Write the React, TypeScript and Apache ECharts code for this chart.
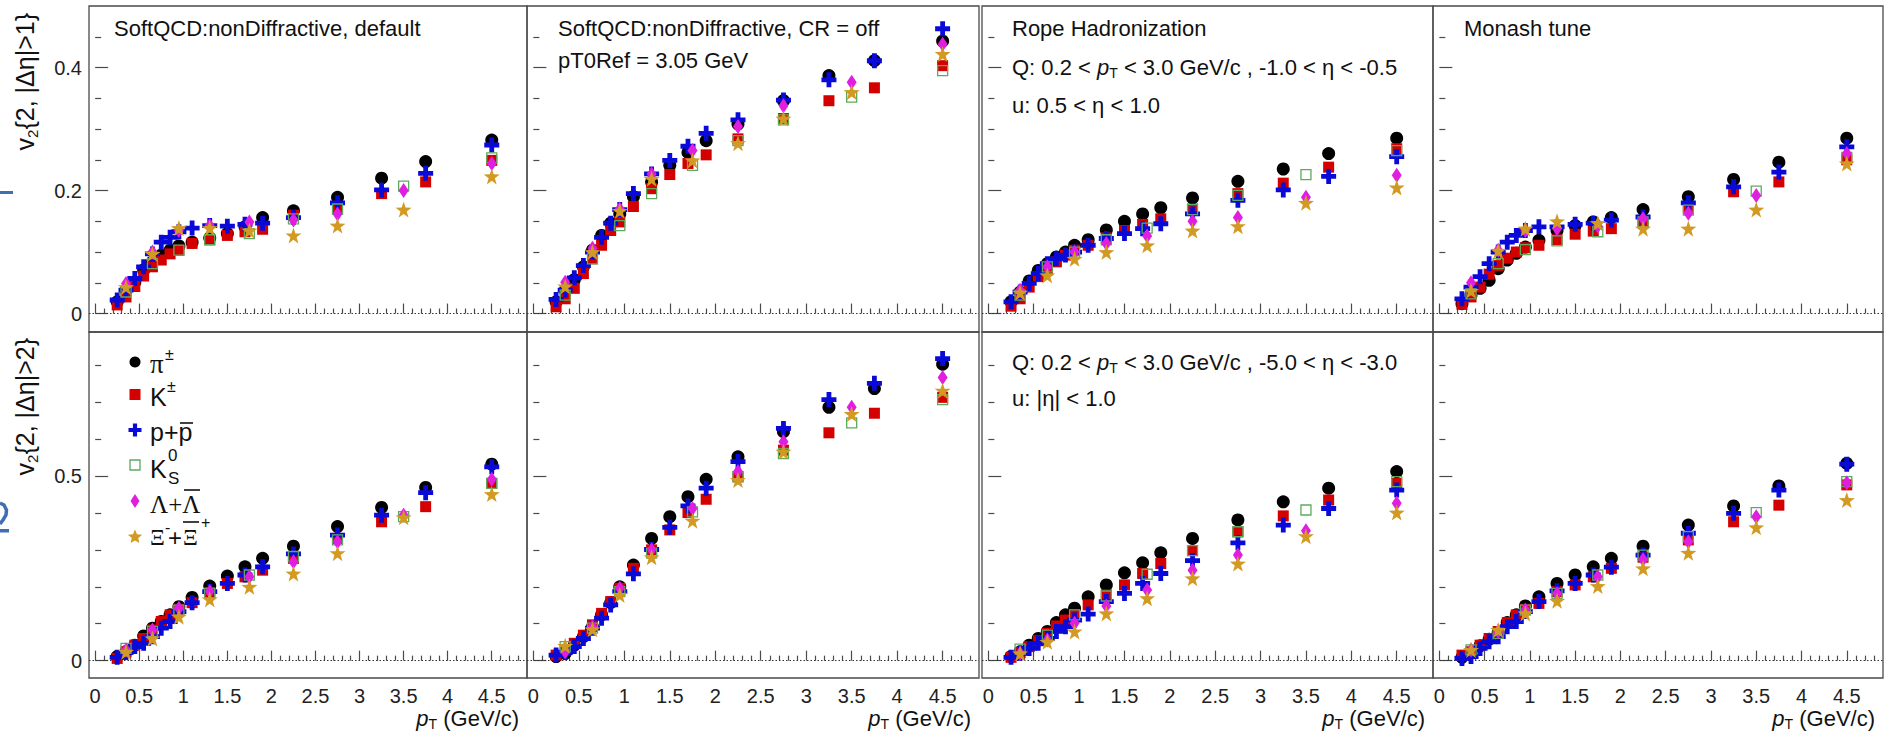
import React, { useEffect, useRef } from 'react';
import * as echarts from 'echarts';

// ---------------- data ----------------
const PT_LIGHT = [0.25, 0.35, 0.45, 0.55, 0.65, 0.75, 0.85, 0.95, 1.1, 1.3, 1.5, 1.7, 1.9, 2.25, 2.75, 3.25, 3.75, 4.5];
const PT_STRANGE = [0.35, 0.65, 0.95, 1.3, 1.75, 2.25, 2.75, 3.5, 4.5];

// top row: v2{2, |Δη|>1}
const defEta1_pi = [0.019, 0.038, 0.051, 0.071, 0.084, 0.095, 0.103, 0.110, 0.116, 0.123, 0.130, 0.141, 0.156, 0.167, 0.189, 0.220, 0.247, 0.282];
const defEta1_K = [0.014, 0.027, 0.044, 0.061, 0.076, 0.087, 0.097, 0.103, 0.114, 0.120, 0.127, 0.133, 0.137, 0.160, 0.170, 0.195, 0.214, 0.249];
const defEta1_p = [0.022, 0.038, 0.057, 0.076, 0.097, 0.116, 0.124, 0.133, 0.139, 0.143, 0.142, 0.145, 0.147, 0.156, 0.180, 0.201, 0.228, 0.274];
const defEta1_K0S = [0.035, 0.081, 0.103, 0.120, 0.130, 0.154, 0.170, 0.207, 0.253];
const defEta1_Lam = [0.049, 0.100, 0.135, 0.143, 0.149, 0.152, 0.162, 0.200, 0.244];
const defEta1_Xi = [0.043, 0.097, 0.139, 0.139, 0.135, 0.127, 0.143, 0.169, 0.223];

const crOffEta1_pi = [0.019, 0.038, 0.055, 0.076, 0.103, 0.127, 0.147, 0.162, 0.190, 0.214, 0.241, 0.262, 0.281, 0.308, 0.346, 0.387, 0.411, 0.443];
const crOffEta1_K = [0.011, 0.024, 0.041, 0.065, 0.089, 0.111, 0.135, 0.149, 0.174, 0.203, 0.226, 0.244, 0.258, 0.284, 0.317, 0.346, 0.367, 0.403];
const crOffEta1_p = [0.023, 0.038, 0.058, 0.078, 0.100, 0.124, 0.147, 0.169, 0.195, 0.227, 0.249, 0.272, 0.293, 0.315, 0.347, 0.380, 0.411, 0.463];
const crOffEta1_K0S = [0.030, 0.089, 0.143, 0.195, 0.241, 0.281, 0.315, 0.352, 0.395];
const crOffEta1_Lam = [0.051, 0.106, 0.170, 0.227, 0.265, 0.304, 0.338, 0.376, 0.438];
const crOffEta1_Xi = [0.044, 0.100, 0.167, 0.219, 0.249, 0.277, 0.317, 0.360, 0.422];

const ropeEta1_pi = [0.019, 0.035, 0.053, 0.070, 0.081, 0.092, 0.100, 0.111, 0.120, 0.136, 0.150, 0.162, 0.172, 0.188, 0.215, 0.235, 0.260, 0.285];
const ropeEta1_K = [0.012, 0.024, 0.043, 0.060, 0.071, 0.084, 0.095, 0.103, 0.111, 0.123, 0.135, 0.145, 0.154, 0.170, 0.195, 0.212, 0.238, 0.268];
const ropeEta1_p = [0.019, 0.035, 0.049, 0.065, 0.081, 0.089, 0.095, 0.100, 0.111, 0.122, 0.130, 0.138, 0.146, 0.162, 0.184, 0.201, 0.223, 0.255];
const ropeEta1_K0S = [0.030, 0.076, 0.100, 0.120, 0.139, 0.169, 0.192, 0.226, 0.265];
const ropeEta1_Lam = [0.038, 0.076, 0.100, 0.114, 0.126, 0.150, 0.156, 0.189, 0.225];
const ropeEta1_Xi = [0.034, 0.062, 0.089, 0.100, 0.111, 0.135, 0.142, 0.180, 0.205];

const monashEta1_pi = [0.016, 0.030, 0.041, 0.054, 0.073, 0.087, 0.098, 0.108, 0.119, 0.135, 0.143, 0.149, 0.156, 0.169, 0.190, 0.218, 0.246, 0.285];
const monashEta1_K = [0.015, 0.027, 0.043, 0.064, 0.078, 0.090, 0.100, 0.107, 0.111, 0.120, 0.129, 0.134, 0.138, 0.149, 0.173, 0.198, 0.214, 0.250];
const monashEta1_p = [0.024, 0.043, 0.060, 0.081, 0.100, 0.116, 0.127, 0.135, 0.141, 0.141, 0.145, 0.147, 0.152, 0.157, 0.180, 0.206, 0.230, 0.271];
const monashEta1_K0S = [0.032, 0.081, 0.104, 0.118, 0.133, 0.149, 0.168, 0.199, 0.254];
const monashEta1_Lam = [0.050, 0.103, 0.135, 0.138, 0.142, 0.154, 0.163, 0.192, 0.260];
const monashEta1_Xi = [0.037, 0.102, 0.138, 0.150, 0.147, 0.138, 0.138, 0.169, 0.244];

// bottom row: v2{2, |Δη|>2}
const defEta2_pi = [0.011, 0.024, 0.042, 0.067, 0.088, 0.106, 0.124, 0.146, 0.171, 0.202, 0.229, 0.254, 0.277, 0.310, 0.363, 0.415, 0.469, 0.532];
const defEta2_K = [0.006, 0.024, 0.042, 0.060, 0.083, 0.106, 0.124, 0.139, 0.157, 0.184, 0.209, 0.227, 0.245, 0.277, 0.331, 0.376, 0.417, 0.480];
const defEta2_p = [0.009, 0.022, 0.038, 0.047, 0.065, 0.088, 0.106, 0.133, 0.157, 0.187, 0.209, 0.232, 0.254, 0.289, 0.340, 0.394, 0.455, 0.525];
const defEta2_K0S = [0.033, 0.079, 0.137, 0.182, 0.232, 0.282, 0.327, 0.390, 0.480];
const defEta2_Lam = [0.029, 0.083, 0.142, 0.187, 0.227, 0.268, 0.322, 0.394, 0.491];
const defEta2_Xi = [0.024, 0.060, 0.119, 0.166, 0.200, 0.236, 0.291, 0.388, 0.451];

const crOffEta2_pi = [0.011, 0.020, 0.042, 0.065, 0.092, 0.124, 0.157, 0.200, 0.259, 0.331, 0.390, 0.444, 0.491, 0.552, 0.620, 0.686, 0.737, 0.803];
const crOffEta2_K = [0.015, 0.029, 0.047, 0.069, 0.097, 0.128, 0.160, 0.196, 0.250, 0.300, 0.354, 0.401, 0.437, 0.498, 0.570, 0.617, 0.670, 0.713];
const crOffEta2_p = [0.015, 0.022, 0.038, 0.060, 0.088, 0.115, 0.151, 0.187, 0.235, 0.301, 0.361, 0.419, 0.467, 0.539, 0.629, 0.707, 0.751, 0.818];
const crOffEta2_K0S = [0.038, 0.088, 0.187, 0.291, 0.403, 0.498, 0.561, 0.644, 0.707];
const crOffEta2_Lam = [0.024, 0.092, 0.196, 0.300, 0.412, 0.512, 0.593, 0.686, 0.767];
const crOffEta2_Xi = [0.040, 0.085, 0.178, 0.280, 0.379, 0.489, 0.566, 0.668, 0.731];

const ropeEta2_pi = [0.011, 0.024, 0.042, 0.060, 0.079, 0.103, 0.124, 0.142, 0.173, 0.205, 0.238, 0.265, 0.292, 0.331, 0.381, 0.430, 0.467, 0.512];
const ropeEta2_K = [0.009, 0.022, 0.038, 0.054, 0.074, 0.094, 0.110, 0.124, 0.151, 0.178, 0.205, 0.236, 0.263, 0.298, 0.349, 0.392, 0.435, 0.480];
const ropeEta2_p = [0.009, 0.020, 0.033, 0.047, 0.060, 0.079, 0.092, 0.110, 0.126, 0.160, 0.182, 0.209, 0.236, 0.271, 0.319, 0.367, 0.412, 0.462];
const ropeEta2_K0S = [0.031, 0.069, 0.124, 0.175, 0.234, 0.298, 0.349, 0.408, 0.485];
const ropeEta2_Lam = [0.020, 0.056, 0.101, 0.148, 0.191, 0.245, 0.286, 0.352, 0.426];
const ropeEta2_Xi = [0.020, 0.051, 0.079, 0.128, 0.169, 0.223, 0.263, 0.337, 0.401];

const monashEta2_pi = [0.009, 0.022, 0.040, 0.058, 0.076, 0.103, 0.124, 0.148, 0.173, 0.209, 0.232, 0.254, 0.277, 0.310, 0.367, 0.419, 0.473, 0.534];
const monashEta2_K = [0.015, 0.024, 0.042, 0.060, 0.079, 0.103, 0.124, 0.139, 0.155, 0.187, 0.205, 0.227, 0.250, 0.280, 0.327, 0.376, 0.421, 0.476];
const monashEta2_p = [0.006, 0.011, 0.033, 0.051, 0.065, 0.092, 0.106, 0.133, 0.160, 0.189, 0.209, 0.232, 0.253, 0.286, 0.345, 0.399, 0.462, 0.532];
const monashEta2_K0S = [0.029, 0.074, 0.137, 0.182, 0.232, 0.286, 0.336, 0.401, 0.485];
const monashEta2_Lam = [0.029, 0.079, 0.137, 0.182, 0.227, 0.274, 0.322, 0.390, 0.482];
const monashEta2_Xi = [0.029, 0.083, 0.128, 0.162, 0.202, 0.250, 0.292, 0.361, 0.435];

// ticks
const X_MAJOR_TICKS = [0, 0.5, 1, 1.5, 2, 2.5, 3, 3.5, 4, 4.5];
const X_MINOR_TICKS = [0.1, 0.2, 0.3, 0.4, 0.6, 0.7, 0.8, 0.9, 1.1, 1.2, 1.3, 1.4, 1.6, 1.7, 1.8, 1.9, 2.1, 2.2, 2.3, 2.4, 2.6, 2.7, 2.8, 2.9, 3.1, 3.2, 3.3, 3.4, 3.6, 3.7, 3.8, 3.9, 4.1, 4.2, 4.3, 4.4, 4.6, 4.7, 4.8];
const Y_TOP_MAJOR = [0, 0.2, 0.4];
const Y_TOP_MINOR = [0.05, 0.1, 0.15, 0.25, 0.3, 0.35, 0.45];
const Y_BOT_MAJOR = [0, 0.5];
const Y_BOT_MINOR = [0.1, 0.2, 0.3, 0.4, 0.6, 0.7, 0.8];

const X_RANGE = [-0.07, 4.9];
const Y_TOP_RANGE = [-0.03, 0.5];
const Y_BOT_RANGE = [-0.047, 0.89];

// panel order: top row (|Δη|>1) then bottom row (|Δη|>2); columns: default, CR off, rope, Monash
const PANEL_SERIES = [
  [defEta1_pi, defEta1_K, defEta1_p, defEta1_K0S, defEta1_Lam, defEta1_Xi],
  [crOffEta1_pi, crOffEta1_K, crOffEta1_p, crOffEta1_K0S, crOffEta1_Lam, crOffEta1_Xi],
  [ropeEta1_pi, ropeEta1_K, ropeEta1_p, ropeEta1_K0S, ropeEta1_Lam, ropeEta1_Xi],
  [monashEta1_pi, monashEta1_K, monashEta1_p, monashEta1_K0S, monashEta1_Lam, monashEta1_Xi],
  [defEta2_pi, defEta2_K, defEta2_p, defEta2_K0S, defEta2_Lam, defEta2_Xi],
  [crOffEta2_pi, crOffEta2_K, crOffEta2_p, crOffEta2_K0S, crOffEta2_Lam, crOffEta2_Xi],
  [ropeEta2_pi, ropeEta2_K, ropeEta2_p, ropeEta2_K0S, ropeEta2_Lam, ropeEta2_Xi],
  [monashEta2_pi, monashEta2_K, monashEta2_p, monashEta2_K0S, monashEta2_Lam, monashEta2_Xi],
];

const SPECIES_NAMES = ['π±', 'K±', 'p+p̄', 'K0S', 'Λ+Λ̄', 'Ξ-+Ξ̄+'];

// ---------------- styling ----------------
const FONT = '"Liberation Sans", Arial, Helvetica, sans-serif';
const SERIF = '"Liberation Serif", "Times New Roman", serif';
const AXIS_COLOR = '#4a4a4a';
const C_BLACK = '#000000';
const C_RED = '#d40000';
const C_BLUE = '#0a0ad8';
const C_GREEN = '#5daa5f';
const C_MAGENTA = '#e01ee0';
const C_GOLD = '#d29a22';

const CROSS_PATH = 'path://M34,0H66V34H100V66H66V100H34V66H0V34H34Z';
const STAR_PATH = 'path://M50,0L62,35L99,36L69,58L80,94L50,73L20,94L31,58L1,36L38,35Z';

const SPECIES_STYLE: any[] = [
  { symbol: 'circle', symbolSize: 13, itemStyle: { color: C_BLACK, opacity: 1 } },
  { symbol: 'rect', symbolSize: 11, itemStyle: { color: C_RED, opacity: 1 } },
  { symbol: CROSS_PATH, symbolSize: 15, itemStyle: { color: C_BLUE, opacity: 1 } },
  { symbol: 'rect', symbolSize: 10, itemStyle: { color: 'rgba(0,0,0,0)', borderColor: C_GREEN, borderWidth: 1.3, opacity: 1 } },
  { symbol: 'diamond', symbolSize: [10, 15], itemStyle: { color: C_MAGENTA, opacity: 1 } },
  { symbol: STAR_PATH, symbolSize: 16, itemStyle: { color: C_GOLD, opacity: 1 } },
];

const COLS = [
  { left: 89, width: 438 },
  { left: 527, width: 452 },
  { left: 982, width: 451 },
  { left: 1433, width: 450 },
];
const ROWS = [
  { top: 6, height: 326 },
  { top: 332, height: 346 },
];

function buildOption() {
  const grid: any[] = [];
  const xAxis: any[] = [];
  const yAxis: any[] = [];
  const series: any[] = [];

  for (let p = 0; p < 8; p++) {
    const r = Math.floor(p / 4);
    const c = p % 4;
    grid.push({
      left: COLS[c].left, top: ROWS[r].top, width: COLS[c].width, height: ROWS[r].height,
      show: true, borderColor: AXIS_COLOR, borderWidth: 1.3, backgroundColor: 'transparent',
    });
    const yr = r === 0 ? Y_TOP_RANGE : Y_BOT_RANGE;
    const yMaj = r === 0 ? Y_TOP_MAJOR : Y_BOT_MAJOR;
    const yMin = r === 0 ? Y_TOP_MINOR : Y_BOT_MINOR;
    const base = {
      type: 'value', gridIndex: p, axisLine: { show: false }, splitLine: { show: false },
    };
    xAxis.push({
      ...base, position: 'bottom', min: X_RANGE[0], max: X_RANGE[1],
      axisTick: { show: true, inside: true, length: 10, customValues: X_MAJOR_TICKS, lineStyle: { color: AXIS_COLOR, width: 1.2 } },
      axisLabel: { show: r === 1, customValues: X_MAJOR_TICKS, margin: 8, fontSize: 20, color: '#222', fontFamily: FONT },
    });
    xAxis.push({
      ...base, position: 'bottom', min: X_RANGE[0], max: X_RANGE[1],
      axisTick: { show: true, inside: true, length: 5, customValues: X_MINOR_TICKS, lineStyle: { color: AXIS_COLOR, width: 1.2 } },
      axisLabel: { show: false },
    });
    yAxis.push({
      ...base, position: 'left', min: yr[0], max: yr[1],
      axisTick: { show: true, inside: true, length: 13, customValues: yMaj, lineStyle: { color: AXIS_COLOR, width: 1.2 } },
      axisLabel: { show: c === 0, customValues: yMaj, margin: 7, fontSize: 20, color: '#222', fontFamily: FONT },
    });
    yAxis.push({
      ...base, position: 'left', min: yr[0], max: yr[1],
      axisTick: { show: true, inside: true, length: 6, customValues: yMin, lineStyle: { color: AXIS_COLOR, width: 1.2 } },
      axisLabel: { show: false },
    });

    const arrs = PANEL_SERIES[p];
    for (let s = 0; s < 6; s++) {
      const xs = s < 3 ? PT_LIGHT : PT_STRANGE;
      const ys = arrs[s];
      const ser: any = {
        type: 'scatter', name: SPECIES_NAMES[s], xAxisIndex: 2 * p, yAxisIndex: 2 * p,
        data: xs.map((x, k) => [x, ys[k]]),
        ...SPECIES_STYLE[s], silent: true, z: 3 + s,
      };
      if (s === 0) {
        ser.markLine = {
          silent: true, symbol: ['none', 'none'], label: { show: false },
          lineStyle: { type: [1.5, 2], color: '#333', width: 1.2, opacity: 1 },
          data: [{ yAxis: 0 }], z: 1,
        };
      }
      series.push(ser);
    }
  }

  const txt = (x: number, y: number, text: string, size = 22, extra: any = {}) => ({
    type: 'text', x, y, silent: true,
    style: { text, fontSize: size, fontFamily: FONT, fill: '#111', align: 'left', verticalAlign: 'middle', ...extra },
  });
  const richPt = {
    n: { fontSize: 22, fontFamily: FONT, fill: '#111' },
    i: { fontSize: 22, fontFamily: FONT, fontStyle: 'italic', fill: '#111' },
    s: { fontSize: 14, fontFamily: FONT, fill: '#111', verticalAlign: 'bottom', padding: [12, 0, 0, 0] },
  };

  const graphic: any[] = [
    txt(114, 28, 'SoftQCD:nonDiffractive, default'),
    txt(558, 28, 'SoftQCD:nonDiffractive, CR = off'),
    txt(558, 60, 'pT0Ref = 3.05 GeV'),
    txt(1012, 28, 'Rope Hadronization'),
    txt(1012, 67, '{n|Q: 0.2 < }{i|p}{s|T}{n| < 3.0 GeV/c , -1.0 < η < -0.5}', 22, { rich: richPt }),
    txt(1012, 105, 'u: 0.5 < η < 1.0'),
    txt(1464, 28, 'Monash tune'),
    txt(1012, 362, '{n|Q: 0.2 < }{i|p}{s|T}{n| < 3.0 GeV/c , -5.0 < η < -3.0}', 22, { rich: richPt }),
    txt(1012, 398, 'u: |η| < 1.0'),
  ];

  for (let c = 0; c < 4; c++) {
    graphic.push(txt(COLS[c].left + COLS[c].width - 8, 718, '{i|p}{s|T}{n| (GeV/c)}', 22, { align: 'right', rich: richPt }));
  }

  // y-axis titles (rotated)
  const richY = {
    a: { fontSize: 25, fontFamily: FONT, fill: '#111' },
    s: { fontSize: 15, fontFamily: FONT, fill: '#111', verticalAlign: 'bottom', padding: [14, 0, 0, 0] },
  };
  graphic.push({
    type: 'text', x: 25, y: 13, rotation: Math.PI / 2, silent: true,
    style: { text: '{a|v}{s|2}{a|{2, |Δη|>1}}', fontSize: 25, fontFamily: FONT, fill: '#111', align: 'right', verticalAlign: 'middle', rich: richY },
  });
  graphic.push({
    type: 'text', x: 25, y: 338, rotation: Math.PI / 2, silent: true,
    style: { text: '{a|v}{s|2}{a|{2, |Δη|>2}}', fontSize: 25, fontFamily: FONT, fill: '#111', align: 'right', verticalAlign: 'middle', rich: richY },
  });

  // legend (inside bottom-left panel)
  const lx = 135;
  const starPts = (cx: number, cy: number, R: number) => {
    const pts: number[][] = [];
    for (let k = 0; k < 10; k++) {
      const rr = k % 2 === 0 ? R : R * 0.45;
      const a = -Math.PI / 2 + (k * Math.PI) / 5;
      pts.push([cx + rr * Math.cos(a), cy + rr * Math.sin(a)]);
    }
    return pts;
  };
  const crossPts = (cx: number, cy: number, h: number) => {
    const a = h * 0.32, b = h;
    return [[cx - a, cy - b], [cx + a, cy - b], [cx + a, cy - a], [cx + b, cy - a], [cx + b, cy + a], [cx + a, cy + a], [cx + a, cy + b], [cx - a, cy + b], [cx - a, cy + a], [cx - b, cy + a], [cx - b, cy - a], [cx - a, cy - a]];
  };
  graphic.push(
    { type: 'circle', silent: true, shape: { cx: lx, cy: 362, r: 5.5 }, style: { fill: C_BLACK } },
    { type: 'rect', silent: true, shape: { x: lx - 5.5, y: 389, width: 11, height: 11 }, style: { fill: C_RED } },
    { type: 'polygon', silent: true, shape: { points: crossPts(lx, 430, 6.5) }, style: { fill: C_BLUE } },
    { type: 'rect', silent: true, shape: { x: lx - 5, y: 460, width: 10, height: 10 }, style: { fill: 'none', stroke: C_GREEN, lineWidth: 1.3 } },
    { type: 'polygon', silent: true, shape: { points: [[lx, 494], [lx + 4.5, 501], [lx, 508], [lx - 4.5, 501]] }, style: { fill: C_MAGENTA } },
    { type: 'polygon', silent: true, shape: { points: starPts(lx, 537, 7.5) }, style: { fill: C_GOLD } },
  );
  const lt = (x: number, y: number, text: string, size: number, family = FONT) => ({
    type: 'text', x, y, silent: true,
    style: { text, fontSize: size, fontFamily: family, fill: '#111', align: 'left', verticalAlign: 'middle' },
  });
  graphic.push(
    lt(150, 364, 'π', 27, SERIF), lt(165, 354, '±', 16),
    lt(150, 397, 'K', 25), lt(167, 386, '±', 16),
    lt(150, 432, 'p+p', 25),
    { type: 'line', silent: true, shape: { x1: 180, y1: 423, x2: 193, y2: 423 }, style: { stroke: '#111', lineWidth: 1.6 } },
    lt(150, 469, 'K', 25), lt(168, 455, '0', 17), lt(168, 478, 'S', 17),
    lt(150, 504, 'Λ+Λ', 25, SERIF),
    { type: 'line', silent: true, shape: { x1: 184, y1: 490, x2: 200, y2: 490 }, style: { stroke: '#111', lineWidth: 1.6 } },
    lt(150, 537, 'Ξ', 23, SERIF), lt(165, 527, '-', 16),
    lt(168, 537, '+', 24), lt(183, 537, 'Ξ', 23, SERIF),
    { type: 'line', silent: true, shape: { x1: 183, y1: 522, x2: 199, y2: 522 }, style: { stroke: '#111', lineWidth: 1.6 } },
    lt(201, 522, '+', 16),
  );

  // cropped slide fragments at the left edge (drawn as shapes)
  graphic.push(
    { type: 'rect', silent: true, shape: { x: 0, y: 191, width: 13, height: 3 }, style: { fill: '#3e6fb4' } },
    { type: 'polyline', silent: true, shape: { points: [[0, 503], [4, 505], [6.5, 510], [6, 515], [3, 520], [0, 524]] }, style: { stroke: '#3e6fb4', lineWidth: 3.5, fill: 'none' } },
    { type: 'rect', silent: true, shape: { x: 0, y: 529, width: 9, height: 3.5 }, style: { fill: '#3e6fb4' } },
  );

  return {
    animation: false,
    backgroundColor: '#ffffff',
    textStyle: { fontFamily: FONT },
    grid, xAxis, yAxis, series, graphic,
  };
}

export default function App() {
  const ref = useRef<HTMLDivElement>(null);
  useEffect(() => {
    if (!ref.current) return;
    const chart = echarts.init(ref.current, undefined, { renderer: 'svg' });
    chart.setOption(buildOption() as any);
    return () => chart.dispose();
  }, []);
  return <div ref={ref} style={{ position: 'fixed', left: 0, top: 0, width: 1892, height: 737, background: '#fff' }} />;
}
